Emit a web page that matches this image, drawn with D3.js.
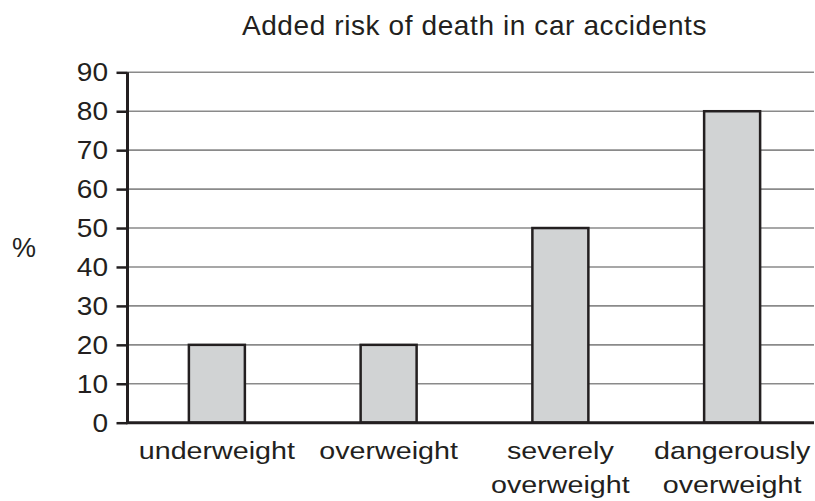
<!DOCTYPE html>
<html>
<head>
<meta charset="utf-8">
<script src="https://cdn.jsdelivr.net/npm/d3@7"></script>
<style>
  body { margin: 0; background: #fff; }
  svg { display: block; font-family: "Liberation Sans", Arial, Helvetica, sans-serif; }
</style>
</head>
<body>
<svg id="chart" width="815" height="501"></svg>
<script>
// Chart data
const categories = ["underweight", "overweight", "severely overweight", "dangerously overweight"];
const categoryLines = [["underweight"], ["overweight"], ["severely", "overweight"], ["dangerously", "overweight"]];
const riskValues = [20, 20, 50, 80];
const yTicks = [0, 10, 20, 30, 40, 50, 60, 70, 80, 90];
const chartTitle = "Added risk of death in car accidents";
const yLabel = "%";

const svg = d3.select("#chart");
const ink = "#231f20";

const plot = { left: 127.5, right: 814, top: 72.3, bottom: 422.7 };

// the reference lettering is a bit wider than Liberation Sans
const tickStretch = 1.08;
const labelStretch = 1.195;

const y = d3.scaleLinear().domain([0, 90]).range([plot.bottom, plot.top]);
const x = d3.scaleBand()
    .domain(categories)
    .range([131, 818])
    .paddingInner(0.674)
    .paddingOuter(0.337);

// Grid lines
svg.append("g")
    .selectAll("line")
    .data(yTicks.filter(d => d > 0))
    .join("line")
    .attr("x1", plot.left)
    .attr("x2", plot.right)
    .attr("y1", d => y(d))
    .attr("y2", d => y(d))
    .attr("stroke", "#8a8a8a")
    .attr("stroke-width", 1.6);

// Bars
svg.append("g")
    .selectAll("rect")
    .data(riskValues)
    .join("rect")
    .attr("x", (d, i) => x(categories[i]))
    .attr("y", d => y(d))
    .attr("width", x.bandwidth())
    .attr("height", d => y(0) - y(d))
    .attr("fill", "#d1d3d4")
    .attr("stroke", ink)
    .attr("stroke-width", 2.5);

// Y axis
const yAxis = svg.append("g")
    .attr("transform", `translate(${plot.left},0)`)
    .call(d3.axisLeft(y).tickValues(yTicks).tickSize(11).tickPadding(8));
yAxis.select(".domain").attr("stroke", ink).attr("stroke-width", 3)
    .attr("d", `M0,${plot.top}V${plot.bottom}`);
yAxis.selectAll(".tick line").attr("stroke", ink).attr("stroke-width", 2.5);
yAxis.selectAll(".tick text")
    .attr("fill", ink)
    .attr("font-size", 26)
    .attr("font-family", "Liberation Sans, Arial, sans-serif")
    .attr("x", -19.5 / tickStretch)
    .attr("transform", `scale(${tickStretch},1)`);

// X baseline
svg.append("line")
    .attr("x1", plot.left - 1.5)
    .attr("x2", plot.right)
    .attr("y1", plot.bottom)
    .attr("y2", plot.bottom)
    .attr("stroke", ink)
    .attr("stroke-width", 3);

// X labels
const xl = svg.append("g").attr("transform", `scale(${labelStretch},1)`);
categoryLines.forEach((lines, i) => {
    const cx = (x(categories[i]) + x.bandwidth() / 2) / labelStretch;
    const t = xl.append("text")
        .attr("text-anchor", "middle")
        .attr("fill", ink)
        .attr("font-size", 24);
    lines.forEach((ln, j) => {
        t.append("tspan")
            .attr("x", cx)
            .attr("y", 459 + j * 34.5)
            .text(ln);
    });
});

// Title
svg.append("text")
    .attr("x", 474.5)
    .attr("y", 35)
    .attr("text-anchor", "middle")
    .attr("fill", ink)
    .attr("font-size", 28)
    .attr("letter-spacing", 0.6)
    .text(chartTitle);

// Y label
svg.append("text")
    .attr("x", 24)
    .attr("y", 257)
    .attr("text-anchor", "middle")
    .attr("fill", ink)
    .attr("font-size", 27)
    .text(yLabel);
</script>
</body>
</html>
